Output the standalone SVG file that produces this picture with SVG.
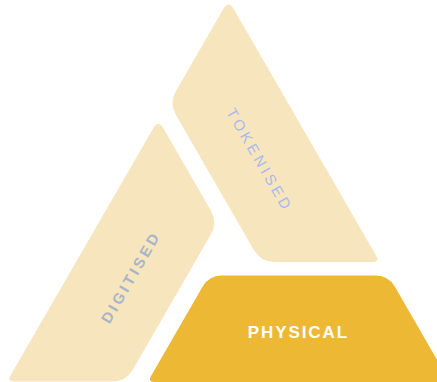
<svg xmlns="http://www.w3.org/2000/svg" width="437" height="382" viewBox="0 0 437 382">
<style>
.light{fill:#F7E6BD;}
.dark{fill:#EDB833;}
.lbl{font-family:"Liberation Sans",Arial,sans-serif;text-anchor:middle;}
</style>
<rect width="437" height="382" fill="#FFFFFF"/>
<g id="tokenised">
<path class="light" d="M 233.7 9 Q 228.5 0 223.3 9 L 175.95 90.96 Q 169 103 175.95 115.04 L 253.85 249.96 Q 260.8 262 274.7 262 L 372.9 262 Q 379.8 262 376.35 256.02 Z"/>
<text class="lbl" transform="translate(254.2,161.3) rotate(60)" x="1.7" y="0" font-size="15" letter-spacing="3.4" fill="#A9B9EC">TOKENISED</text>
</g>
<g id="digitised">
<path class="light" d="M 163.5 128.5 Q 158.3 119.5 153.1 128.5 L 10.45 375.52 Q 7 381.5 13.9 381.5 L 112.1 381.5 Q 126 381.5 132.95 369.46 L 210.85 234.54 Q 217.8 222.5 210.85 210.46 Z"/>
<text class="lbl" transform="translate(134.6,281) rotate(-60)" x="1.6" y="0" font-size="15" font-weight="bold" letter-spacing="3.2" fill="#A9B4CB">DIGITISED</text>
</g>
<g id="physical">
<path class="dark" d="M 221.7 275.5 L 375.7 275.5 Q 388.4 275.5 394.75 286.5 L 449.8 382 L 154.5 382 Q 147.6 382 151.05 376.02 L 202.65 286.5 Q 209 275.5 221.7 275.5 Z"/>
<text class="lbl" x="298.4" y="338" font-size="17" font-weight="bold" letter-spacing="1.9" fill="#FFFFFF">PHYSICAL</text>
</g>
<g id="connectors"/>
</svg>
